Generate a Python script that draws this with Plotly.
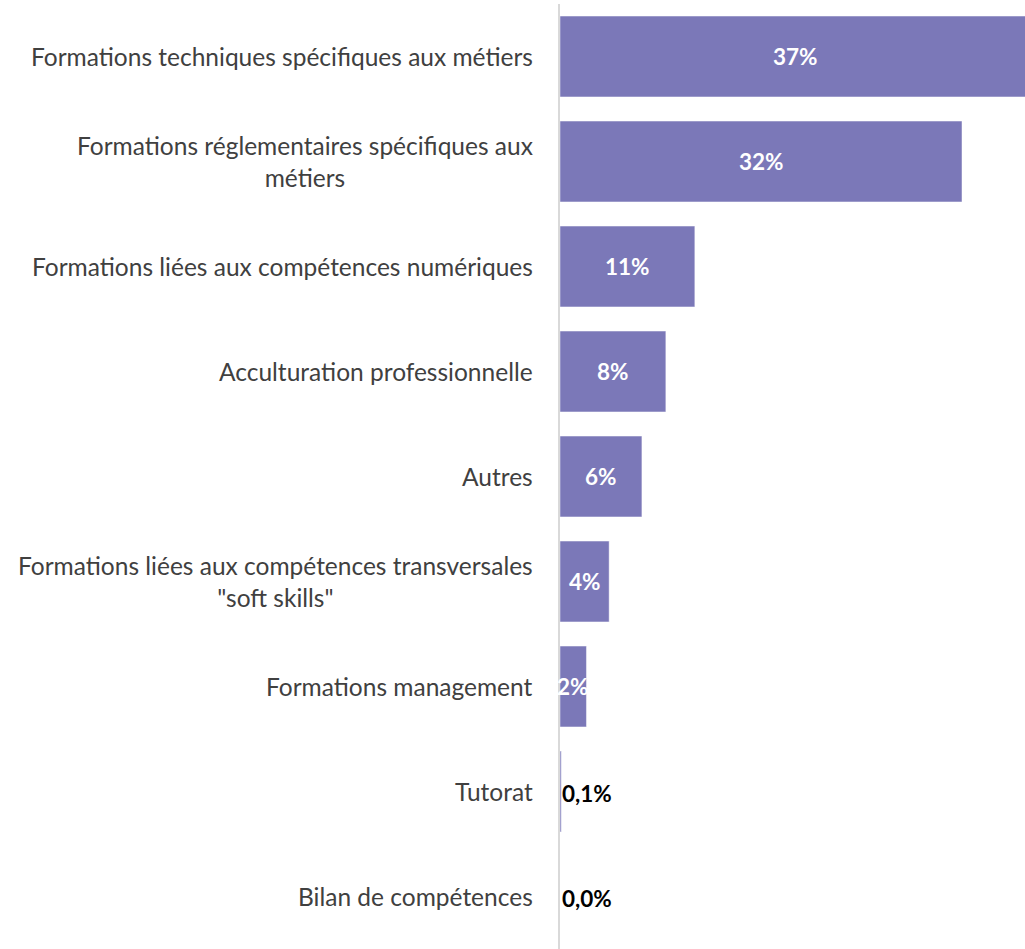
import plotly.graph_objects as go

categories = [
    "Formations techniques spécifiques aux métiers",
    "Formations réglementaires spécifiques aux<br>métiers",
    "Formations liées aux compétences numériques",
    "Acculturation professionnelle",
    "Autres",
    "Formations liées aux compétences transversales<br>\"soft skills\"",
    "Formations management",
    "Tutorat",
    "Bilan de compétences",
]
values = [37.4, 31.9, 10.7, 8.4, 6.5, 3.9, 2.1, 0.1, 0.0]
value_labels = ["37%", "32%", "11%", "8%", "6%", "4%", "2%", "0,1%", "0,0%"]

BAR = "#7b78b8"
FONT = "Lato, Carlito, Calibri, 'Open Sans', sans-serif"

fig = go.Figure(go.Bar(
    y=categories,
    x=values,
    orientation="h",
    marker=dict(color=BAR, line=dict(color="rgba(255,255,255,0.45)", width=1)),
    width=0.77,
    hoverinfo="skip",
))

annotations = []
for cat, v, lab in zip(categories, values, value_labels):
    annotations.append(dict(
        x=0, y=cat, xref="x", yref="y", text=cat, showarrow=False,
        xanchor="right", yanchor="middle", align="center", xshift=-25,
        font=dict(family=FONT, size=24.5, color="#404040"),
    ))
    if v >= 1:
        annotations.append(dict(
            x=v / 2, y=cat, xref="x", yref="y", text="<b>" + lab + "</b>",
            showarrow=False, xanchor="center", yanchor="middle",
            font=dict(family=FONT, size=22.5, color="white"),
        ))
    else:
        annotations.append(dict(
            x=0, y=cat, xref="x", yref="y", text="<b>" + lab + "</b>",
            showarrow=False, xanchor="left", yanchor="middle", xshift=0, yshift=-2,
            font=dict(family=FONT, size=22.5, color="black"),
        ))

fig.update_layout(
    width=1025, height=949,
    margin=dict(l=560, r=0, t=4, b=0),
    paper_bgcolor="white", plot_bgcolor="white",
    showlegend=False,
    annotations=annotations,
    xaxis=dict(range=[0, 36.9], visible=False, fixedrange=True),
    yaxis=dict(
        categoryorder="array", categoryarray=categories, autorange="reversed",
        showticklabels=False, ticks="", showgrid=False, zeroline=False,
        showline=True, linecolor="#d9d9d9", linewidth=1.5, fixedrange=True,
    ),
)

fig.write_html(
    "out.html",
    config={"displayModeBar": False},
    post_script="document.body.style.margin='0';document.body.style.padding='0';",
)
